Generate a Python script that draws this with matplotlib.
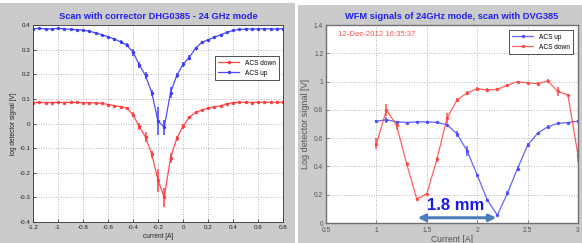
import matplotlib
matplotlib.use("Agg")
import matplotlib.pyplot as plt
from matplotlib.patches import Rectangle
from matplotlib.lines import Line2D

plt.rcParams['font.family'] = ['Liberation Sans', 'DejaVu Sans']

# ---------------- data: left panel ----------------
left_x = [-1.20, -1.15, -1.10, -1.05, -1.00, -0.95, -0.90, -0.85, -0.80, -0.75,
          -0.70, -0.65, -0.60, -0.55, -0.50, -0.45, -0.40, -0.35, -0.30, -0.25,
          -0.20, -0.15, -0.10, -0.05, 0.00, 0.05, 0.10, 0.15, 0.20, 0.25,
          0.30, 0.35, 0.40, 0.45, 0.50, 0.55, 0.60, 0.65, 0.70, 0.75, 0.80]
left_up = [0.385, 0.386, 0.384, 0.384, 0.386, 0.385, 0.382, 0.381, 0.379, 0.375,
           0.368, 0.361, 0.352, 0.343, 0.332, 0.318, 0.290, 0.238, 0.195, 0.125,
           0.010, -0.015, 0.125, 0.195, 0.240, 0.268, 0.305, 0.330, 0.340, 0.350,
           0.360, 0.370, 0.378, 0.382, 0.383, 0.384, 0.384, 0.385, 0.384, 0.384, 0.385]
left_up_err = [0.003, 0.003, 0.003, 0.003, 0.003, 0.003, 0.003, 0.003, 0.003, 0.003,
               0.003, 0.004, 0.005, 0.006, 0.006, 0.009, 0.014, 0.012, 0.015, 0.013,
               0.055, 0.030, 0.023, 0.010, 0.010, 0.010, 0.005, 0.005, 0.004, 0.004,
               0.004, 0.003, 0.003, 0.003, 0.003, 0.003, 0.003, 0.003, 0.003, 0.003, 0.003]
left_down = [0.085, 0.086, 0.085, 0.085, 0.086, 0.085, 0.086, 0.086, 0.085, 0.085,
             0.084, 0.082, 0.077, 0.073, 0.068, 0.063, 0.035, -0.012, -0.055, -0.125,
             -0.230, -0.300, -0.140, -0.060, -0.012, 0.025, 0.045, 0.055, 0.062, 0.068,
             0.072, 0.080, 0.085, 0.086, 0.086, 0.085, 0.086, 0.086, 0.086, 0.086, 0.087]
left_down_err = [0.003, 0.003, 0.003, 0.003, 0.003, 0.003, 0.003, 0.003, 0.003, 0.003,
                 0.003, 0.003, 0.003, 0.004, 0.004, 0.004, 0.010, 0.013, 0.020, 0.015,
                 0.047, 0.040, 0.020, 0.010, 0.010, 0.005, 0.004, 0.004, 0.003, 0.003,
                 0.003, 0.003, 0.003, 0.003, 0.003, 0.003, 0.003, 0.003, 0.003, 0.003, 0.003]

# ---------------- data: right panel ----------------
right_x = [1.0, 1.1, 1.2, 1.3, 1.4, 1.5, 1.6, 1.7, 1.8, 1.9, 2.0,
           2.1, 2.2, 2.3, 2.4, 2.5, 2.6, 2.7, 2.8, 2.9, 3.0]
right_up = [0.720, 0.730, 0.716, 0.710, 0.715, 0.716, 0.711, 0.695, 0.630, 0.510, 0.340,
            0.163, 0.055, 0.210, 0.385, 0.550, 0.635, 0.680, 0.705, 0.710, 0.720]
right_up_err = [0.008, 0.020, 0.006, 0.005, 0.006, 0.006, 0.005, 0.008, 0.020, 0.035, 0.010,
                0.006, 0.005, 0.015, 0.020, 0.015, 0.010, 0.010, 0.006, 0.006, 0.008]
right_down = [0.560, 0.800, 0.690, 0.420, 0.170, 0.205, 0.450, 0.740, 0.870, 0.920, 0.950,
              0.940, 0.945, 0.975, 1.000, 0.990, 0.985, 1.005, 0.930, 0.905, 0.480]
right_down_err = [0.040, 0.040, 0.030, 0.010, 0.010, 0.010, 0.020, 0.040, 0.015, 0.015, 0.010,
                  0.015, 0.010, 0.010, 0.006, 0.010, 0.010, 0.010, 0.030, 0.010, 0.050]

left_title = "Scan with corrector DHG0385 - 24 GHz mode"
right_title = "WFM signals of 24GHz mode, scan with DVG385"
date_text = "12-Dec-2012 16:35:37"
span_text = "1.8 mm"

W, H = 582, 243
fig = plt.figure(figsize=(W / 100, H / 100), dpi=100)
fig.patch.set_facecolor('white')

gray = '#cbcbcb'
fig.patches.append(Rectangle((0 / W, 0), 295 / W, (H - 3) / H, transform=fig.transFigure,
                             facecolor=gray, edgecolor='none', zorder=-10))
fig.patches.append(Rectangle((298 / W, 0), (W - 298) / W, (H - 5) / H, transform=fig.transFigure,
                             facecolor=gray, edgecolor='none', zorder=-10))

BLUE1 = '#3a3aff'
RED1 = '#ff3a3a'
BLUE2 = '#4a4aff'
RED2 = '#ff4545'


def leg_handle(color, alpha):
    return Line2D([], [], color=color, marker='.', ms=3.0, lw=0.9, alpha=alpha)


# ---------------- left axes ----------------
ax1 = fig.add_axes([33 / W, (H - 222) / H, 250 / W, 197 / H])
ax1.set_facecolor('white')
ax1.errorbar(left_x, left_down, yerr=left_down_err, fmt='.-', color=RED1, ms=3.0, lw=0.9,
             elinewidth=1.2, capsize=0, alpha=0.9)
ax1.errorbar(left_x, left_up, yerr=left_up_err, fmt='.-', color=BLUE1, ms=3.0, lw=0.9,
             elinewidth=1.2, capsize=0, alpha=0.9)
ax1.set_xlim(-1.2, 0.8)
ax1.set_ylim(-0.4, 0.4)
ax1.set_xticks([-1.2, -1.0, -0.8, -0.6, -0.4, -0.2, 0.0, 0.2, 0.4, 0.6, 0.8])
ax1.set_xticklabels(['-1.2', '-1', '-0.8', '-0.6', '-0.4', '-0.2', '0', '0.2', '0.4', '0.6', '0.8'])
ax1.set_yticks([-0.4, -0.3, -0.2, -0.1, 0.0, 0.1, 0.2, 0.3, 0.4])
ax1.set_yticklabels(['-0.4', '-0.3', '-0.2', '-0.1', '0', '0.1', '0.2', '0.3', '0.4'])
ax1.tick_params(direction='in', length=2, width=0.5, labelsize=4.5, pad=2, colors='#222222')
ax1.grid(True, linestyle=(0, (1, 2)), color='#9a9a9a', linewidth=0.6)
for s in ax1.spines.values():
    s.set_color('#333333')
    s.set_linewidth(0.6)
ax1.set_title(left_title, fontsize=6.7, fontweight='bold', color='#2020ee', pad=4)
ax1.set_xlabel('current [A]', fontsize=4.7, color='#222222', labelpad=2)
ax1.set_ylabel('log detector signal [V]', fontsize=4.7, color='#222222', labelpad=2)
leg1 = ax1.legend([leg_handle(RED1, 0.9), leg_handle(BLUE1, 0.9)], ['ACS down', 'ACS up'],
                  loc='upper right', bbox_to_anchor=(0.996, 0.858), fontsize=4.7,
                  handlelength=3.2, borderpad=0.5, labelspacing=0.5, fancybox=False,
                  framealpha=1, edgecolor='#333333')
leg1.get_frame().set_linewidth(0.6)

# ---------------- right axes ----------------
ax2 = fig.add_axes([326 / W, (H - 223) / H, 252 / W, 198 / H])
ax2.set_facecolor('white')
ax2.errorbar(right_x, right_up, yerr=right_up_err, fmt='.-', color=BLUE2, ms=3.0, lw=0.9,
             elinewidth=1.2, capsize=0, alpha=0.85)
ax2.errorbar(right_x, right_down, yerr=right_down_err, fmt='.-', color=RED2, ms=3.0, lw=0.9,
             elinewidth=1.2, capsize=0, alpha=0.85)
ax2.set_xlim(0.5, 3.0)
ax2.set_ylim(0, 1.4)
ax2.set_xticks([0.5, 1.0, 1.5, 2.0, 2.5, 3.0])
ax2.set_xticklabels(['0.5', '1', '1.5', '2', '2.5', '3'])
ax2.set_yticks([0, 0.2, 0.4, 0.6, 0.8, 1.0, 1.2, 1.4])
ax2.set_yticklabels(['0', '0.2', '0.4', '0.6', '0.8', '1', '1.2', '1.4'])
ax2.tick_params(direction='in', length=2, width=0.5, labelsize=4.8, pad=2, colors='#555555')
ax2.tick_params(axis='x', pad=3)
ax2.grid(True, linestyle=(0, (1, 2)), color='#9a9a9a', linewidth=0.6)
for s in ax2.spines.values():
    s.set_color('#707070')
    s.set_linewidth(1.0)
ax2.set_title(right_title, fontsize=6.7, fontweight='bold', color='#2020ee', pad=4)
ax2.set_xlabel('Current [A]', fontsize=6.2, color='#555555', labelpad=0.5)
ax2.set_ylabel('Log detector signal [V]', fontsize=6.5, color='#555555', labelpad=3)
leg2 = ax2.legend([leg_handle(BLUE2, 0.85), leg_handle(RED2, 0.85)], ['ACS up', 'ACS down'],
                  loc='upper right', bbox_to_anchor=(0.992, 0.99), fontsize=4.7,
                  handlelength=3.2, borderpad=0.5, labelspacing=0.5, fancybox=False,
                  framealpha=1, edgecolor='#333333')
leg2.get_frame().set_linewidth(0.6)

ax2.text(0.62, 1.33, date_text, fontsize=5.6, color='#ff5050', ha='left', va='center')
ax2.annotate('', xy=(1.41, 0.037), xytext=(2.19, 0.037),
             arrowprops=dict(arrowstyle='<|-|>', color='#4a7ebb', lw=2.2,
                             mutation_scale=10, shrinkA=0, shrinkB=0))
ax2.text(1.79, 0.125, span_text, fontsize=12, fontweight='bold', color='#1a1ae6',
         ha='center', va='center')

fig.savefig('out.png', dpi=100, facecolor=fig.get_facecolor())
